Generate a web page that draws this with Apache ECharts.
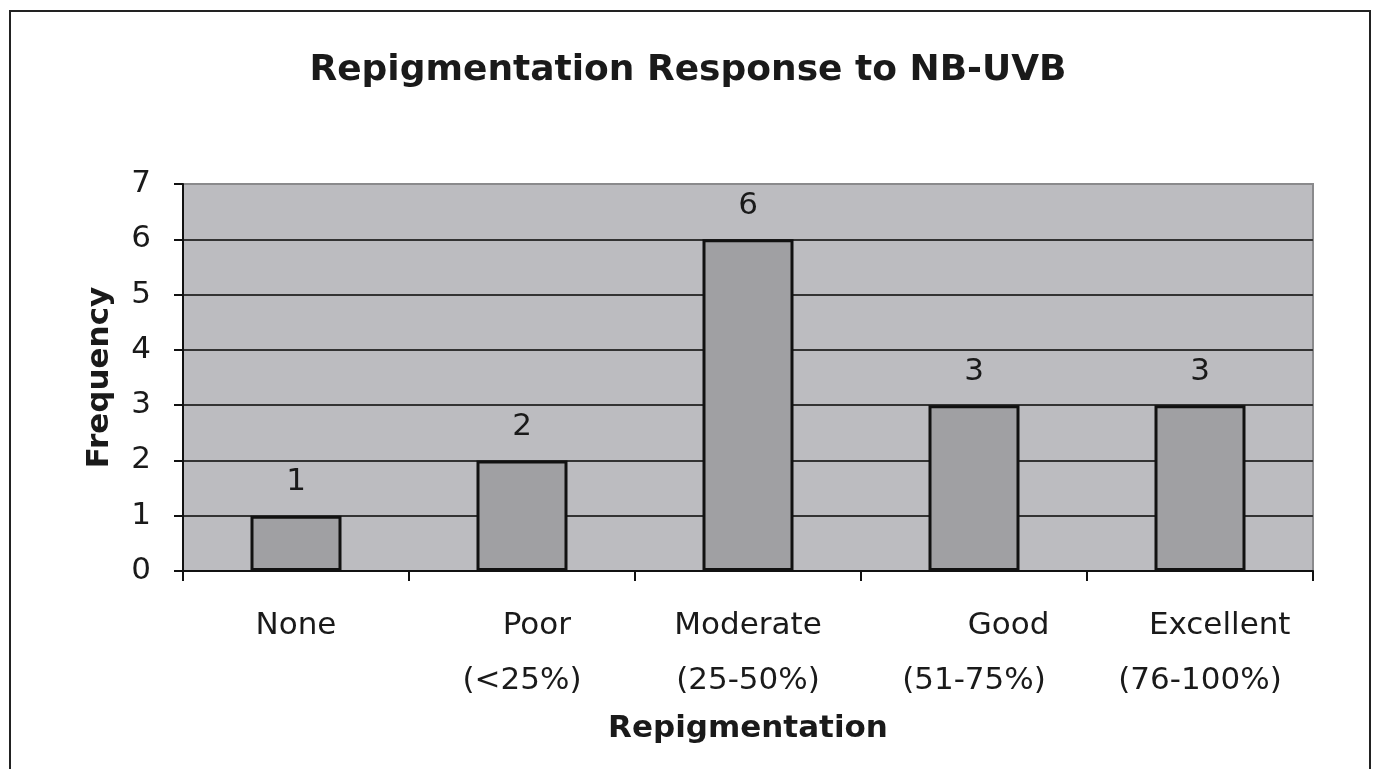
<!DOCTYPE html>
<html>
<head>
<meta charset="utf-8">
<script src="https://cdn.jsdelivr.net/npm/echarts@6/dist/echarts.min.js"></script>
<style>
  html, body { margin: 0; padding: 0; background: #fff; }
  #report { width: 1376px; height: 769px; }
</style>
</head>
<body>
<div id="report"></div>
<script>
// 数据
var categories = ['None', '   Poor\n(<25%)', 'Moderate\n(25-50%)', '       Good\n(51-75%)', '    Excellent\n(76-100%)'];
var frequencies = [1, 2, 6, 3, 3];
var yTicks = [0, 1, 2, 3, 4, 5, 6, 7];

var FONT = '"DejaVu Sans", Arial, sans-serif';
var myChart = echarts.init(document.getElementById('report'));

var option = {
    backgroundColor: '#fff',
    animation: false,
    textStyle: { fontFamily: FONT },
    title: {
        text: 'Repigmentation Response to NB-UVB',
        left: 'center',
        top: 48,
        textStyle: { fontSize: 36, fontWeight: 'bold', color: '#1a1a1a', fontFamily: FONT }
    },
    graphic: [{
        // 外框
        type: 'rect',
        z: -1,
        shape: { x: 10, y: 11, width: 1360, height: 800 },
        style: { fill: 'none', stroke: '#222', lineWidth: 2 }
    }],
    grid: {
        left: 183,
        top: 184,
        right: 63,
        bottom: 198,
        show: true,
        backgroundColor: '#bcbcc0',
        borderColor: '#8a8a8c',
        borderWidth: 2
    },
    xAxis: {
        type: 'category',
        data: categories,
        name: 'Repigmentation',
        nameLocation: 'middle',
        nameGap: 142,
        nameTextStyle: { fontSize: 31, fontWeight: 'bold', color: '#1a1a1a', fontFamily: FONT },
        axisLine: { show: true, lineStyle: { color: '#111', width: 2 } },
        axisTick: { show: true, interval: 0, length: 10, lineStyle: { color: '#111', width: 2 } },
        axisLabel: {
            interval: 0,
            fontSize: 31,
            lineHeight: 55,
            margin: 27,
            color: '#1a1a1a',
            align: 'center',
            fontFamily: FONT
        },
        splitLine: { show: false }
    },
    yAxis: {
        type: 'value',
        min: yTicks[0],
        max: yTicks[yTicks.length - 1],
        interval: 1,
        name: 'Frequency',
        nameLocation: 'middle',
        nameGap: 68,
        nameTextStyle: { fontSize: 31, fontWeight: 'bold', color: '#1a1a1a', fontFamily: FONT },
        axisLine: { show: true, lineStyle: { color: '#111', width: 2 } },
        axisTick: { show: true, length: 9, lineStyle: { color: '#111', width: 2 } },
        axisLabel: { fontSize: 31, margin: 32, color: '#1a1a1a', fontFamily: FONT },
        splitLine: { show: true, showMaxLine: false, lineStyle: { color: '#333', width: 2 } }
    },
    series: [{
        name: 'Frequency',
        type: 'bar',
        data: frequencies,
        barWidth: 91,
        itemStyle: { color: '#a0a0a3', borderColor: '#111', borderWidth: 3 },
        label: {
            show: true,
            position: 'top',
            distance: 18,
            fontSize: 31,
            color: '#1a1a1a',
            fontFamily: FONT
        }
    }]
};
myChart.setOption(option);
</script>
</body>
</html>
